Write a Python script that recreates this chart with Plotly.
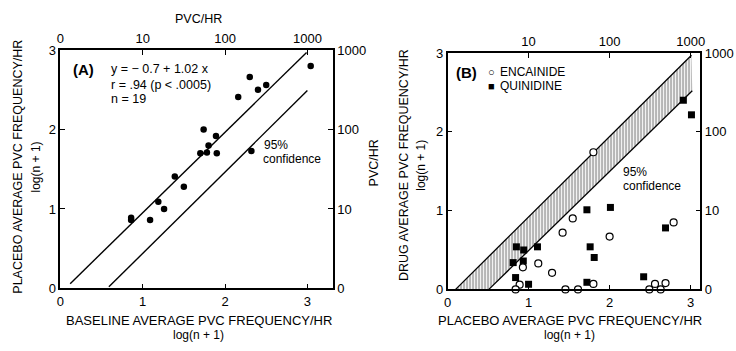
import plotly.graph_objects as go

# ---------------- data ----------------
# Panel A: baseline vs placebo (log(n+1))
a_x = [0.86, 0.86, 1.09, 1.19, 1.26, 1.39, 1.50, 1.70, 1.74, 1.78, 1.80, 1.89, 1.90, 2.16, 2.30, 2.40, 2.50, 2.32, 3.04]
a_y = [0.89, 0.86, 0.86, 1.09, 1.00, 1.41, 1.28, 1.70, 2.00, 1.71, 1.80, 1.92, 1.70, 2.41, 2.66, 2.50, 2.56, 1.73, 2.80]
a_fit_x = [0.12, 2.99]
a_fit_y = [0.06, 2.97]
a_conf_x = [0.59, 3.00]
a_conf_y = [0.02, 2.49]

# Panel B: placebo vs drug
enc_x = [1.80, 1.545, 1.42, 2.00, 2.79, 1.12, 0.93, 1.29, 0.89, 0.84, 1.455, 1.61, 1.80, 2.49, 2.56, 2.63, 2.69]
enc_y = [1.74, 0.90, 0.72, 0.67, 0.85, 0.33, 0.28, 0.21, 0.06, 0.00, 0.00, 0.00, 0.07, 0.00, 0.07, 0.00, 0.08]
qui_x = [2.91, 3.01, 1.72, 2.01, 2.69, 0.85, 0.94, 1.11, 1.76, 0.81, 0.935, 1.81, 0.84, 1.00, 1.72, 2.42]
qui_y = [2.40, 2.215, 1.01, 1.04, 0.78, 0.54, 0.50, 0.54, 0.54, 0.34, 0.36, 0.405, 0.15, 0.065, 0.09, 0.16]
band_up_x = [0.10, 3.01]
band_up_y = [0.00, 2.97]
band_lo_x = [0.51, 3.02]
band_lo_y = [0.00, 2.52]

tick_vals = [0, 1, 2, 3]
tick_lin = ["0", "1", "2", "3"]
tick_pvc = ["0", "10", "100", "1000"]

FONT = "Liberation Sans, Arial, sans-serif"

fig = go.Figure()

# Panel A
fig.add_trace(go.Scatter(x=a_fit_x, y=a_fit_y, mode="lines", line=dict(color="black", width=1.4),
                         xaxis="x", yaxis="y", showlegend=False, hoverinfo="skip"))
fig.add_trace(go.Scatter(x=a_conf_x, y=a_conf_y, mode="lines", line=dict(color="black", width=1.4),
                         xaxis="x", yaxis="y", showlegend=False, hoverinfo="skip"))
fig.add_trace(go.Scatter(x=a_x, y=a_y, mode="markers", marker=dict(color="black", size=6.5),
                         xaxis="x", yaxis="y", showlegend=False))
fig.add_trace(go.Scatter(x=[None], y=[None], xaxis="x2", yaxis="y2", showlegend=False))

# Panel B band
poly_x = band_up_x + band_lo_x[::-1]
poly_y = band_up_y + band_lo_y[::-1]
fig.add_trace(go.Scatter(x=poly_x, y=poly_y, mode="lines", fill="toself",
                         fillcolor="white",
                         fillpattern=dict(shape="|", size=3, solidity=0.4, fgcolor="black", bgcolor="white"),
                         line=dict(color="rgba(0,0,0,0)", width=0),
                         xaxis="x3", yaxis="y3", showlegend=False, hoverinfo="skip"))
fig.add_trace(go.Scatter(x=band_up_x, y=band_up_y, mode="lines", line=dict(color="black", width=1.3),
                         xaxis="x3", yaxis="y3", showlegend=False, hoverinfo="skip"))
fig.add_trace(go.Scatter(x=band_lo_x, y=band_lo_y, mode="lines", line=dict(color="black", width=1.3),
                         xaxis="x3", yaxis="y3", showlegend=False, hoverinfo="skip"))
fig.add_trace(go.Scatter(x=qui_x, y=qui_y, mode="markers",
                         marker=dict(symbol="square", color="black", size=7),
                         xaxis="x3", yaxis="y3", showlegend=False, cliponaxis=False))
fig.add_trace(go.Scatter(x=enc_x, y=enc_y, mode="markers",
                         marker=dict(symbol="circle", color="white", size=7, line=dict(color="black", width=1.2)),
                         xaxis="x3", yaxis="y3", showlegend=False, cliponaxis=False))
fig.add_trace(go.Scatter(x=[None], y=[None], xaxis="x4", yaxis="y4", showlegend=False))

W, H = 736, 351
def fx(p):
    return p / W
def fy(p):
    return (H - p) / H

axcommon = dict(showline=True, linecolor="black", linewidth=1.5, ticks="inside", ticklen=5,
                tickwidth=1.3, tickcolor="black", showgrid=False, zeroline=False,
                tickfont=dict(family=FONT, size=13, color="black"), fixedrange=True)

a_xdom = [fx(57), fx(333)]
a_ydom = [fy(294), fy(45)]
b_xdom = [fx(449), fx(705)]
b_ydom = [fy(295), fy(48)]

fig.update_layout(
    width=W, height=H, margin=dict(l=0, r=0, t=0, b=0),
    paper_bgcolor="white", plot_bgcolor="white", showlegend=False,
    xaxis=dict(domain=a_xdom, range=[0, 3.31], anchor="y", tickvals=tick_vals, ticktext=tick_lin, **axcommon),
    xaxis2=dict(domain=a_xdom, range=[0, 3.31], anchor="y", overlaying="x", side="top",
                tickvals=tick_vals, ticktext=tick_pvc, **axcommon),
    yaxis=dict(domain=a_ydom, range=[0, 3], anchor="x", tickvals=tick_vals, ticktext=tick_lin, **axcommon),
    yaxis2=dict(domain=a_ydom, range=[0, 3], anchor="x", overlaying="y", side="right",
                tickvals=tick_vals, ticktext=tick_pvc, **axcommon),
    xaxis3=dict(domain=b_xdom, range=[0, 3.12], anchor="y3", tickvals=tick_vals, ticktext=tick_lin, **axcommon),
    xaxis4=dict(domain=b_xdom, range=[0, 3.12], anchor="y3", overlaying="x3", side="top",
                tickvals=tick_vals[1:], ticktext=tick_pvc[1:], **axcommon),
    yaxis3=dict(domain=b_ydom, range=[0, 3], anchor="x3", tickvals=tick_vals, ticktext=tick_lin, **axcommon),
    yaxis4=dict(domain=b_ydom, range=[0, 3], anchor="x3", overlaying="y3", side="right",
                tickvals=tick_vals, ticktext=tick_pvc, **axcommon),
)

def ann(x, y, text, size=12, angle=0, xanchor="center", yanchor="middle"):
    fig.add_annotation(x=fx(x), y=fy(y), xref="paper", yref="paper", text=text, showarrow=False,
                       textangle=angle, xanchor=xanchor, yanchor=yanchor,
                       font=dict(family=FONT, size=size, color="black"))

# Panel A texts
ann(197, 13, "PVC/HR", 12.5)
ann(14, 167, "PLACEBO AVERAGE PVC FREQUENCY/HR", 12.5, -90)
ann(32, 167, "log(n + 1)", 12, -90)
ann(197, 327, "BASELINE AVERAGE PVC FREQUENCY/HR", 13)
ann(197, 343, "log(n + 1)", 12)
ann(375, 163, "PVC/HR", 12.5, -90)
ann(68, 65, "<b>(A)</b>", 15, xanchor="left")
ann(106, 65, "y = − 0.7 + 1.02 x", 12.5, xanchor="left")
ann(106, 81, "r = .94 (p < .0005)", 12.5, xanchor="left")
ann(106, 96, "n = 19", 12.5, xanchor="left")
ann(261, 144, "95%", 12, xanchor="left")
ann(260, 159, "confidence", 12, xanchor="left")

# Panel B texts
ann(405, 165, "DRUG AVERAGE PVC FREQUENCY/HR", 12.5, -90)
ann(422, 165, "log(n + 1)", 12, -90)
ann(573, 327, "PLACEBO AVERAGE PVC FREQUENCY/HR", 13)
ann(573, 343, "log(n + 1)", 12)
ann(456, 68, "<b>(B)</b>", 15, xanchor="left")
ann(494, 68, "○", 11, xanchor="center")
ann(500, 68, "ENCAINIDE", 12, xanchor="left")
ann(494, 83, "■", 11, xanchor="center")
ann(500, 83, "QUINIDINE", 12, xanchor="left")
ann(625, 172, "95%", 12, xanchor="left")
ann(625, 187, "confidence", 12, xanchor="left")

fig.write_html("out.html")
